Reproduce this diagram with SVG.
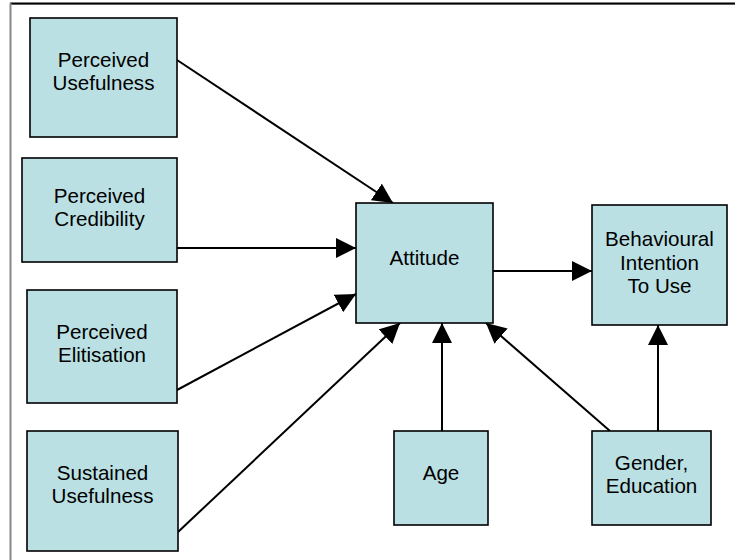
<svg xmlns="http://www.w3.org/2000/svg" width="735" height="560" viewBox="0 0 735 560">
<style>
.box{fill:#BAE0E3;stroke:#000;stroke-width:1.6}
.lbl{font-family:"Liberation Sans",Arial,sans-serif;font-size:20.6px;fill:#000;text-anchor:middle}
.conn{stroke:#000;stroke-width:2;fill:none;marker-end:url(#ah)}
</style>
<defs>
<marker id="ah" markerUnits="userSpaceOnUse" markerWidth="20" markerHeight="20" refX="20" refY="10" orient="auto" viewBox="0 0 20 20">
<path d="M0,0 L20,10 L0,20 z" fill="#000"/>
</marker>
</defs>
<rect width="735" height="560" fill="#fff"/>
<g id="frame">
<line x1="10" y1="4.5" x2="735" y2="4.5" stroke="#bbb" stroke-width="1"/>
<line x1="10" y1="3.5" x2="735" y2="3.5" stroke="#000" stroke-width="2"/>
<line x1="10.5" y1="3" x2="10.5" y2="560" stroke="#888" stroke-width="2"/>
</g>
<g id="connectors">
<line class="conn" x1="177" y1="60" x2="393" y2="203"/>
<line class="conn" x1="177" y1="248" x2="356" y2="248"/>
<line class="conn" x1="177" y1="390" x2="356" y2="294"/>
<line class="conn" x1="178" y1="532" x2="400" y2="323"/>
<line class="conn" x1="442" y1="431" x2="442" y2="323"/>
<line class="conn" x1="610" y1="431" x2="486" y2="323"/>
<line class="conn" x1="658" y1="431" x2="658" y2="325"/>
<line class="conn" x1="493" y1="271" x2="592" y2="271"/>
</g>
<g id="perceived-usefulness">
<rect class="box" x="30" y="18" width="147" height="119"/>
<text class="lbl" x="103.5" y="67">Perceived</text>
<text class="lbl" x="103.5" y="90">Usefulness</text>
</g>
<g id="perceived-credibility">
<rect class="box" x="22" y="158" width="155" height="104"/>
<text class="lbl" x="99.5" y="203">Perceived</text>
<text class="lbl" x="99.5" y="226">Credibility</text>
</g>
<g id="perceived-elitisation">
<rect class="box" x="27" y="290" width="150" height="113"/>
<text class="lbl" x="102" y="339">Perceived</text>
<text class="lbl" x="102" y="362">Elitisation</text>
</g>
<g id="sustained-usefulness">
<rect class="box" x="27" y="431" width="151" height="120"/>
<text class="lbl" x="102.5" y="480">Sustained</text>
<text class="lbl" x="102.5" y="503">Usefulness</text>
</g>
<g id="attitude">
<rect class="box" x="356" y="203" width="137" height="120"/>
<text class="lbl" x="424.5" y="265">Attitude</text>
</g>
<g id="behavioural-intention">
<rect class="box" x="592" y="205" width="135" height="120"/>
<text class="lbl" x="659.5" y="246">Behavioural</text>
<text class="lbl" x="659.5" y="269.5">Intention</text>
<text class="lbl" x="659.5" y="293">To Use</text>
</g>
<g id="age">
<rect class="box" x="394" y="431" width="94" height="94"/>
<text class="lbl" x="441" y="480">Age</text>
</g>
<g id="gender-education">
<rect class="box" x="592" y="431" width="119" height="94"/>
<text class="lbl" x="651.5" y="470">Gender,</text>
<text class="lbl" x="651.5" y="493">Education</text>
</g>
</svg>
